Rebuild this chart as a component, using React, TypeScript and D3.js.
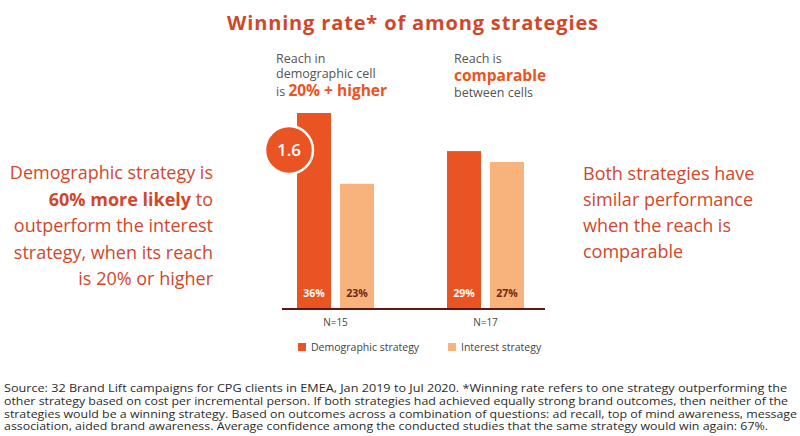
import React from 'react';
import * as d3 from 'd3';

const groups = ['N=15', 'N=17'];
const series = ['Demographic strategy', 'Interest strategy'];
const demographic = [36, 29];
const interest = [23, 27];
const badgeValue = '1.6';

const leftNote = [
  [{ t: 'Demographic strategy is', b: false }],
  [{ t: '60% more likely', b: true }, { t: ' to', b: false }],
  [{ t: 'outperform the interest', b: false }],
  [{ t: 'strategy, when its reach', b: false }],
  [{ t: 'is 20% or higher', b: false }],
];
const rightNote = ['Both strategies have', 'similar performance', 'when the reach is', 'comparable'];
const footnote = [
  'Source: 32 Brand Lift campaigns for CPG clients in EMEA, Jan 2019 to Jul 2020. *Winning rate refers to one strategy outperforming the',
  'other strategy based on cost per incremental person. If both strategies had achieved equally strong brand outcomes, then neither of the',
  'strategies would be a winning strategy.  Based on outcomes across a combination of questions: ad recall, top of mind awareness, message',
  'association, aided brand awareness. Average confidence among the conducted studies that the same strategy would win again: 67%.',
];
const footWidths = [783, 784, 793, 764];

const W = 800;
const H = 436;
const FONT = "'Open Sans', 'Noto Sans', sans-serif";
const RED = '#d2472a';
const ORANGE = '#ea5322';
const PEACH = '#f8b27c';
const AXIS = '#5a1a12';

export default function App() {
  const baseY = 309;
  const y = d3.scaleLinear().domain([0, 36]).range([baseY, 113]);
  const x0 = d3.scaleBand<string>().domain(groups).range([260.5, 560.5]).padding(0);
  const x1 = d3.scaleBand<string>().domain(series).range([36.5, 113.5]).paddingInner(9 / 43).paddingOuter(0);
  const colors = d3.scaleOrdinal<string, string>().domain(series).range([ORANGE, PEACH]);
  const labelColors = d3.scaleOrdinal<string, string>().domain(series).range(['#ffffff', '#6a2a12']);
  const values = [demographic, interest];

  const bars = groups.flatMap((g, gi) =>
    series.map((s, si) => ({ g, s, v: values[si][gi] }))
  );

  const firstBar = bars[0];
  const badgeX = (x0(firstBar.g) ?? 0) + (x1(firstBar.s) ?? 0) - 8;
  const badgeY = y(firstBar.v) + 37;

  return (
    <svg width={W} height={H} style={{ position: 'absolute', left: 0, top: 0, background: '#fff' }} fontFamily={FONT}>
      <rect width={W} height={H} fill="#fff" />
      <text x={227} y={30} fontSize={20} fontWeight={700} fill={RED} textLength={371} lengthAdjust="spacing">
        Winning rate* of among strategies
      </text>

      {/* column headers */}
      <g fontSize={12.5} fill="#555">
        <text x={276} y={63}>Reach in</text>
        <text x={276} y={78}>demographic cell</text>
        <text x={276} y={96}>
          is <tspan fontSize={15.5} fontWeight={700} fill={ORANGE}>20% + higher</tspan>
        </text>
        <text x={454} y={63}>Reach is</text>
        <text x={454} y={81} fontSize={15.5} fontWeight={700} fill={ORANGE}>comparable</text>
        <text x={454} y={97}>between cells</text>
      </g>

      {/* bars */}
      {bars.map((d, i) => {
        const bx = (x0(d.g) ?? 0) + (x1(d.s) ?? 0);
        return (
          <g key={i}>
            <rect x={bx} y={y(d.v)} width={x1.bandwidth()} height={baseY - y(d.v)} fill={colors(d.s)} />
            <text x={bx + x1.bandwidth() / 2} y={baseY - 12} textAnchor="middle" fontSize={10.5} fontWeight={700} fill={labelColors(d.s)}>
              {d.v}%
            </text>
          </g>
        );
      })}

      <line x1={282} x2={545} y1={baseY} y2={baseY} stroke={AXIS} strokeWidth={2} />
      {groups.map(g => (
        <text key={g} x={(x0(g) ?? 0) + x0.bandwidth() / 2} y={326} textAnchor="middle" fontSize={10} fill="#444">
          {g}
        </text>
      ))}

      {/* badge */}
      <circle cx={badgeX} cy={badgeY} r={24} fill={ORANGE} stroke="#fff" strokeWidth={2.5} />
      <text x={badgeX} y={badgeY + 6} textAnchor="middle" fontSize={17} fontWeight={600} fill="#fff">{badgeValue}</text>

      {/* legend */}
      {series.map((s, i) => {
        const lx = (x0(groups[i]) ?? 0) + (x1(series[0]) ?? 0) + 1;
        return (
          <g key={s} transform={`translate(${lx},343)`}>
            <rect width={8} height={8} fill={colors(s)} />
            <text x={13} y={8} fontSize={10.5} fill="#444">{s}</text>
          </g>
        );
      })}

      {/* side notes */}
      <g fontSize={18} fill={RED} textAnchor="end">
        {leftNote.map((line, i) => (
          <text key={i} x={213} y={179 + i * 26.5}>
            {line.map((p, j) => (
              <tspan key={j} fontWeight={p.b ? 700 : 400}>{p.t}</tspan>
            ))}
          </text>
        ))}
      </g>
      <g fontSize={18} fill={RED}>
        {rightNote.map((l, i) => (
          <text key={i} x={583} y={180 + i * 26}>{l}</text>
        ))}
      </g>

      {/* footnote */}
      <g fontSize={11.5} fill="#2b2b2b">
        {footnote.map((l, i) => (
          <text key={i} x={4} y={392 + i * 12.8} textLength={footWidths[i]} lengthAdjust="spacingAndGlyphs">{l}</text>
        ))}
      </g>
    </svg>
  );
}
